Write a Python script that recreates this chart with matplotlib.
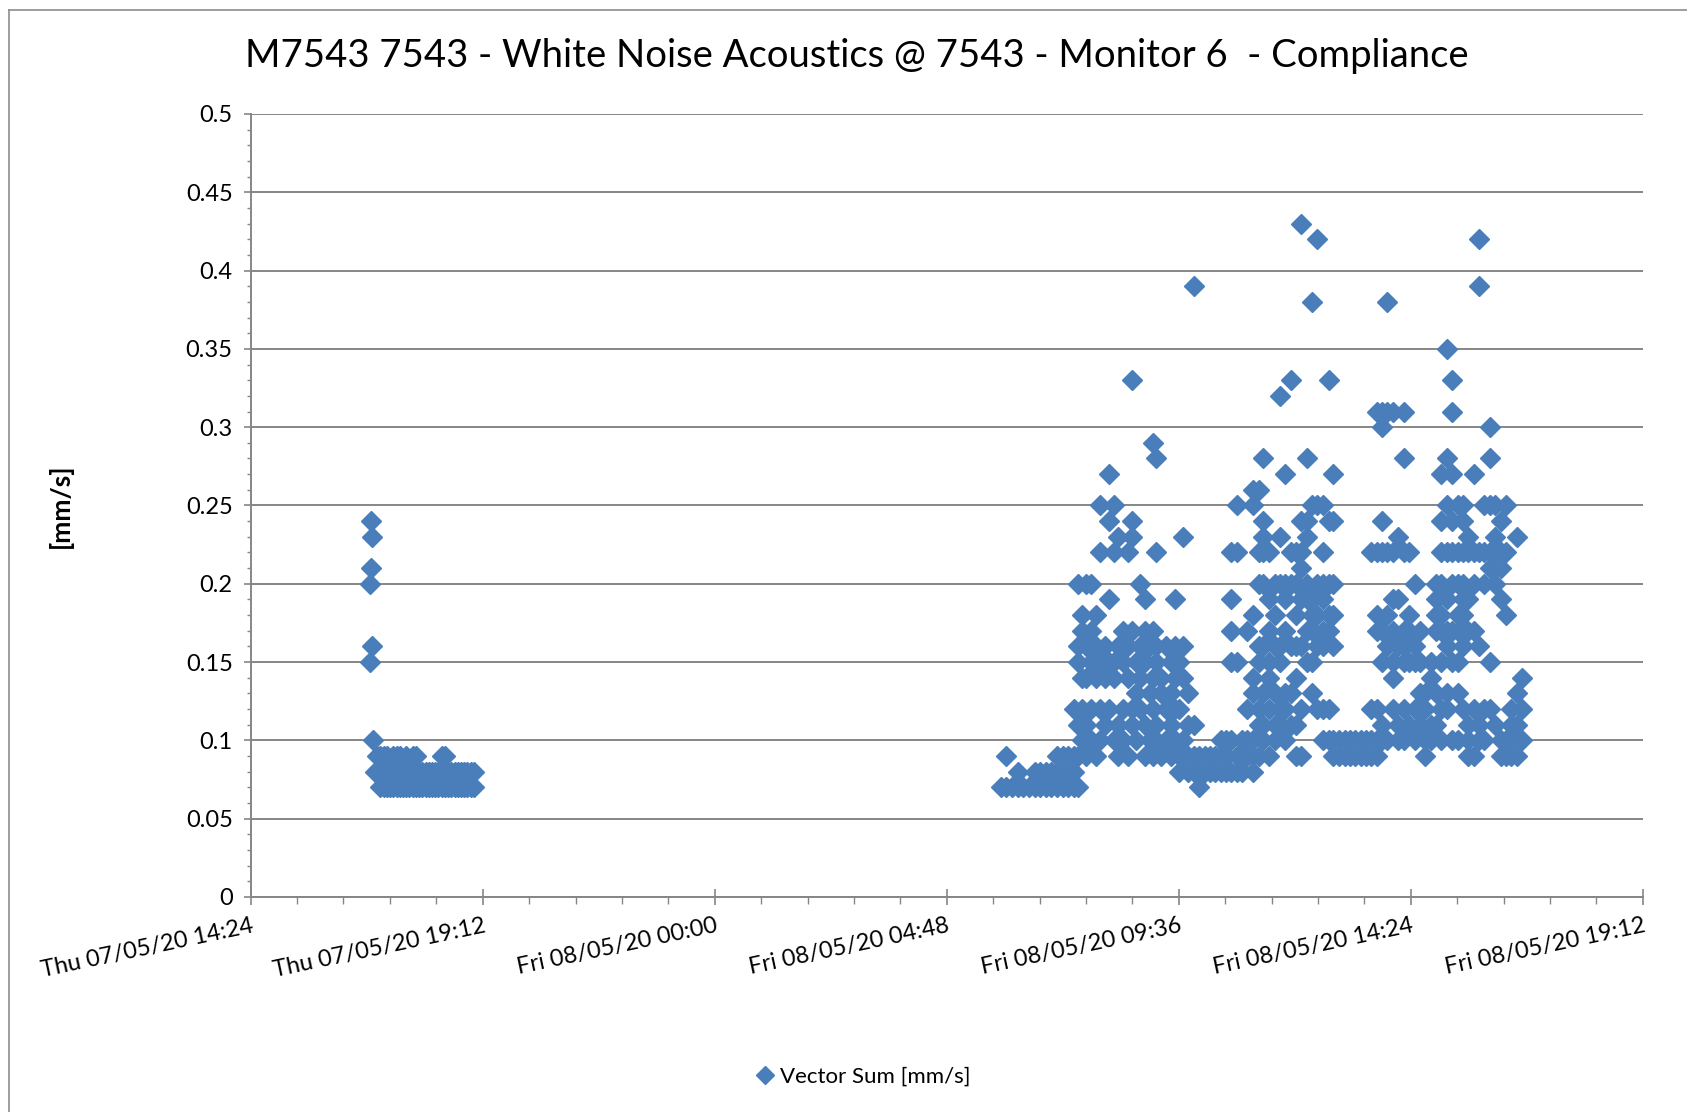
import matplotlib
matplotlib.use("Agg")
import matplotlib.pyplot as plt
import matplotlib.dates as mdates
import pandas as pd
from matplotlib.ticker import MultipleLocator, FuncFormatter
from matplotlib.lines import Line2D

title = "M7543 7543 - White Noise Acoustics @ 7543 - Monitor 6  - Compliance"
series_name = "Vector Sum [mm/s]"
y_label = "[mm/s]"
x_start = "2020-05-07 14:24"
x_end = "2020-05-08 19:12"

# Thursday evening readings (time of day, values logged around that time)
thu_date = "2020-05-07"
thu_times = ["16:52", "16:53", "16:54", "16:56", "16:58", "17:01", "17:05", "17:09",
             "17:13", "17:17", "17:21", "17:25", "17:29", "17:33", "17:37", "17:41",
             "17:45", "17:49", "17:53", "17:57", "18:01", "18:05", "18:09", "18:13",
             "18:17", "18:21", "18:25", "18:29", "18:33", "18:37", "18:41", "18:45",
             "18:49", "18:53", "18:57", "19:01"]
thu_values = [[0.15, 0.2], [0.21, 0.24], [0.16, 0.23], [0.1], [0.08], [0.08, 0.09],
              [0.07, 0.09], [0.07, 0.08, 0.09], [0.07, 0.08, 0.09], [0.07, 0.08],
              [0.07, 0.08, 0.09], [0.07, 0.08, 0.09], [0.07, 0.08, 0.09], [0.07, 0.08],
              [0.07, 0.08, 0.09], [0.07, 0.08], [0.07, 0.08, 0.09], [0.07, 0.08, 0.09],
              [0.07, 0.08], [0.07, 0.08], [0.07, 0.08], [0.07, 0.08], [0.07, 0.08],
              [0.07, 0.08], [0.07, 0.08], [0.07, 0.08, 0.09], [0.07, 0.08, 0.09],
              [0.07, 0.08], [0.07, 0.08], [0.07, 0.08], [0.07, 0.08], [0.07, 0.08],
              [0.07, 0.08], [0.07, 0.08], [0.07, 0.08], [0.07, 0.08]]

# Friday readings
fri_date = "2020-05-08"
fri_times = ["05:55", "06:02", "06:09", "06:16", "06:23", "06:30", "06:37", "06:44",
             "06:51", "06:58", "07:05", "07:12", "07:19", "07:26", "07:31", "07:36",
             "07:41", "07:47", "07:53", "07:58", "08:04", "08:10", "08:16", "08:21",
             "08:27", "08:33", "08:38", "08:43", "08:48", "08:54", "09:00", "09:04",
             "09:08", "09:14", "09:20", "09:26", "09:31", "09:36", "09:41", "09:48",
             "09:55", "10:01", "10:08", "10:15", "10:21", "10:28", "10:35", "10:41",
             "10:48", "10:55", "11:01", "11:08", "11:15", "11:21", "11:28", "11:35",
             "11:42", "11:48", "11:55", "12:01", "12:08", "12:15", "12:22", "12:28",
             "12:35", "12:42", "12:48", "12:55", "13:02", "13:08", "13:15", "13:22",
             "13:28", "13:35", "13:42", "13:48", "13:55", "14:02", "14:08", "14:15",
             "14:22", "14:29", "14:35", "14:42", "14:49", "14:55", "15:02", "15:09",
             "15:15", "15:22", "15:29", "15:35", "15:42", "15:49", "15:55", "16:02",
             "16:09", "16:16", "16:22", "16:29", "16:36", "16:42"]
fri_values = [
    [0.07], [0.07, 0.09], [0.07], [0.07, 0.08], [0.07], [0.07], [0.07, 0.08],
    [0.07, 0.08], [0.07, 0.08], [0.07, 0.08], [0.07, 0.08, 0.09], [0.07, 0.08, 0.09],
    [0.07, 0.08, 0.09], [0.07, 0.08, 0.09, 0.12], [0.07, 0.09, 0.11, 0.15, 0.16, 0.2],
    [0.1, 0.12, 0.14, 0.17, 0.18],
    [0.09, 0.11, 0.14, 0.16, 0.2],
    [0.1, 0.12, 0.15, 0.17, 0.2],
    [0.09, 0.14, 0.16, 0.18],
    [0.1, 0.12, 0.15, 0.22, 0.25],
    [0.11, 0.14, 0.16],
    [0.12, 0.15, 0.19, 0.24, 0.27],
    [0.1, 0.14, 0.15, 0.22, 0.25],
    [0.09, 0.11, 0.16, 0.23],
    [0.1, 0.12, 0.15, 0.17],
    [0.09, 0.14, 0.16, 0.22],
    [0.11, 0.12, 0.17, 0.23, 0.24, 0.33],
    [0.1, 0.13, 0.15],
    [0.12, 0.14, 0.16, 0.2],
    [0.09, 0.11, 0.15, 0.17, 0.19],
    [0.1, 0.13, 0.16],
    [0.09, 0.12, 0.14, 0.17, 0.29],
    [0.1, 0.11, 0.15, 0.16, 0.22, 0.28],
    [0.09, 0.13, 0.14],
    [0.1, 0.12, 0.16],
    [0.09, 0.11, 0.13, 0.15],
    [0.1, 0.12, 0.14, 0.16, 0.19],
    [0.08, 0.09, 0.12, 0.15],
    [0.09, 0.1, 0.14, 0.16, 0.23],
    [0.08, 0.09, 0.11, 0.13],
    [0.08, 0.09, 0.11, 0.39],
    [0.07, 0.08, 0.09],
    [0.08, 0.09], [0.08, 0.09], [0.08, 0.09], [0.08, 0.09, 0.1], [0.08, 0.09, 0.1],
    [0.08, 0.1, 0.15, 0.17, 0.19, 0.22],
    [0.08, 0.09, 0.15, 0.22, 0.25],
    [0.08, 0.09, 0.1],
    [0.09, 0.1, 0.12, 0.17],
    [0.08, 0.09, 0.1, 0.13, 0.14, 0.18, 0.25, 0.26],
    [0.09, 0.11, 0.12, 0.15, 0.16, 0.2, 0.22, 0.26],
    [0.1, 0.11, 0.13, 0.16, 0.2, 0.22, 0.23, 0.24, 0.28],
    [0.09, 0.12, 0.14, 0.15, 0.17, 0.19, 0.22],
    [0.1, 0.11, 0.13, 0.16, 0.18, 0.2],
    [0.11, 0.12, 0.15, 0.16, 0.2, 0.23, 0.32],
    [0.1, 0.12, 0.13, 0.17, 0.19, 0.2, 0.27],
    [0.11, 0.13, 0.16, 0.2, 0.22, 0.33],
    [0.09, 0.11, 0.14, 0.16, 0.18, 0.2, 0.22],
    [0.09, 0.12, 0.16, 0.19, 0.21, 0.22, 0.24, 0.43],
    [0.15, 0.17, 0.19, 0.2, 0.23, 0.24, 0.28],
    [0.13, 0.15, 0.17, 0.18, 0.19, 0.25, 0.38],
    [0.12, 0.16, 0.18, 0.2, 0.25, 0.42],
    [0.1, 0.12, 0.16, 0.17, 0.19, 0.2, 0.22, 0.25],
    [0.1, 0.12, 0.17, 0.18, 0.2, 0.24, 0.33],
    [0.09, 0.1, 0.16, 0.18, 0.2, 0.24, 0.27],
    [0.09, 0.1], [0.09, 0.1], [0.09, 0.1], [0.09, 0.1], [0.09, 0.1], [0.09, 0.1],
    [0.09, 0.1, 0.12, 0.22],
    [0.09, 0.1, 0.12, 0.17, 0.18, 0.22, 0.31],
    [0.1, 0.11, 0.15, 0.17, 0.22, 0.24, 0.3, 0.31],
    [0.1, 0.16, 0.18, 0.22, 0.31, 0.38],
    [0.12, 0.14, 0.15, 0.17, 0.19, 0.22, 0.31],
    [0.1, 0.11, 0.16, 0.19, 0.23],
    [0.1, 0.12, 0.15, 0.16, 0.17, 0.22, 0.28, 0.31],
    [0.11, 0.15, 0.17, 0.18, 0.22],
    [0.1, 0.12, 0.15, 0.16, 0.2],
    [0.11, 0.13, 0.15, 0.17],
    [0.09, 0.1, 0.12, 0.13],
    [0.1, 0.11, 0.14, 0.15],
    [0.11, 0.13, 0.17, 0.18, 0.19, 0.2],
    [0.1, 0.12, 0.15, 0.17, 0.18, 0.2, 0.22, 0.24, 0.27],
    [0.12, 0.13, 0.16, 0.17, 0.19, 0.22, 0.25, 0.28, 0.35],
    [0.1, 0.15, 0.17, 0.2, 0.22, 0.24, 0.27, 0.31, 0.33],
    [0.1, 0.13, 0.15, 0.17, 0.18, 0.2, 0.22, 0.25],
    [0.12, 0.16, 0.18, 0.19, 0.2, 0.22, 0.24, 0.25],
    [0.09, 0.1, 0.11, 0.17, 0.19, 0.22, 0.23],
    [0.09, 0.12, 0.17, 0.2, 0.22, 0.27],
    [0.1, 0.11, 0.16, 0.22, 0.39, 0.42],
    [0.1, 0.12, 0.2, 0.22, 0.25],
    [0.12, 0.15, 0.21, 0.22, 0.25, 0.28, 0.3],
    [0.11, 0.2, 0.21, 0.22, 0.23, 0.25],
    [0.09, 0.1, 0.19, 0.21, 0.22, 0.24],
    [0.09, 0.1, 0.18, 0.22, 0.25],
    [0.09, 0.1, 0.11, 0.12],
    [0.09, 0.1, 0.11, 0.13, 0.23],
    [0.1, 0.12, 0.14],
]

assert len(thu_times) == len(thu_values)
assert len(fri_times) == len(fri_values)

marker_color = "#4A7EBB"
axis_color = "#868686"

plt.rcParams['font.family'] = ['Lato', 'DejaVu Sans']


def expand(day, times, values):
    xs, ys = [], []
    for t, vals in zip(times, values):
        for v in vals:
            xs.append(pd.Timestamp(day + " " + t))
            ys.append(v)
    return xs, ys


x1, y1 = expand(thu_date, thu_times, thu_values)
x2, y2 = expand(fri_date, fri_times, fri_values)
xs = x1 + x2
ys = y1 + y2

fig = plt.figure(figsize=(16.87, 11.12), dpi=100)
ax = fig.add_axes([0.1486, 0.1934, 0.8252, 0.7041])

ax.plot(xs, ys, linestyle='none', marker='D', markersize=10,
        color=marker_color, markeredgecolor=marker_color, zorder=3)

ax.set_xlim(pd.Timestamp(x_start), pd.Timestamp(x_end))
ax.set_ylim(0, 0.5)

ax.yaxis.set_major_locator(MultipleLocator(0.05))
ax.yaxis.set_minor_locator(MultipleLocator(0.01))
ax.yaxis.set_major_formatter(FuncFormatter(lambda v, p: "%g" % round(v, 2)))
ax.xaxis.set_major_locator(MultipleLocator(0.2))
ax.xaxis.set_minor_locator(MultipleLocator(0.04))
ax.xaxis.set_major_formatter(mdates.DateFormatter('%a %d/%m/%y %H:%M'))

ax.yaxis.grid(True, which='major', color=axis_color, linewidth=1.4)
ax.set_axisbelow(True)

for s in ['top', 'right']:
    ax.spines[s].set_visible(False)
for s in ['left', 'bottom']:
    ax.spines[s].set_color(axis_color)
    ax.spines[s].set_linewidth(1.4)

ax.tick_params(axis='y', which='major', direction='out', length=5, width=1.2,
               color=axis_color, labelsize=17, pad=8)
ax.tick_params(axis='y', which='minor', direction='out', length=3, width=1.0,
               color=axis_color)
ax.tick_params(axis='x', which='major', direction='inout', length=12, width=1.2,
               color=axis_color, labelsize=17, pad=7)
ax.tick_params(axis='x', which='minor', direction='out', length=5, width=1.0,
               color=axis_color)
plt.setp(ax.get_xticklabels(), rotation=12, ha='right', rotation_mode='anchor')

fig.text(0.508, 0.9497, title, ha='center', va='center', fontsize=27.5)
fig.text(0.036, 0.545, y_label, rotation=90, ha='center', va='center',
         fontsize=19, fontweight='bold')

handle = Line2D([], [], linestyle='none', marker='D', markersize=9,
                color=marker_color)
fig.legend([handle], [series_name], loc='center', bbox_to_anchor=(0.511, 0.032),
           frameon=False, fontsize=16, handletextpad=0.2, handlelength=1.0)

# chart-area border (top and left edges visible)
fig.add_artist(Line2D([0.0051, 1.0], [0.9913, 0.9913], transform=fig.transFigure,
                      color="#8C8C8C", linewidth=1.2))
fig.add_artist(Line2D([0.0051, 0.0051], [0.0, 0.9913], transform=fig.transFigure,
                      color="#8C8C8C", linewidth=1.2))

fig.savefig("out.png", dpi=100)
